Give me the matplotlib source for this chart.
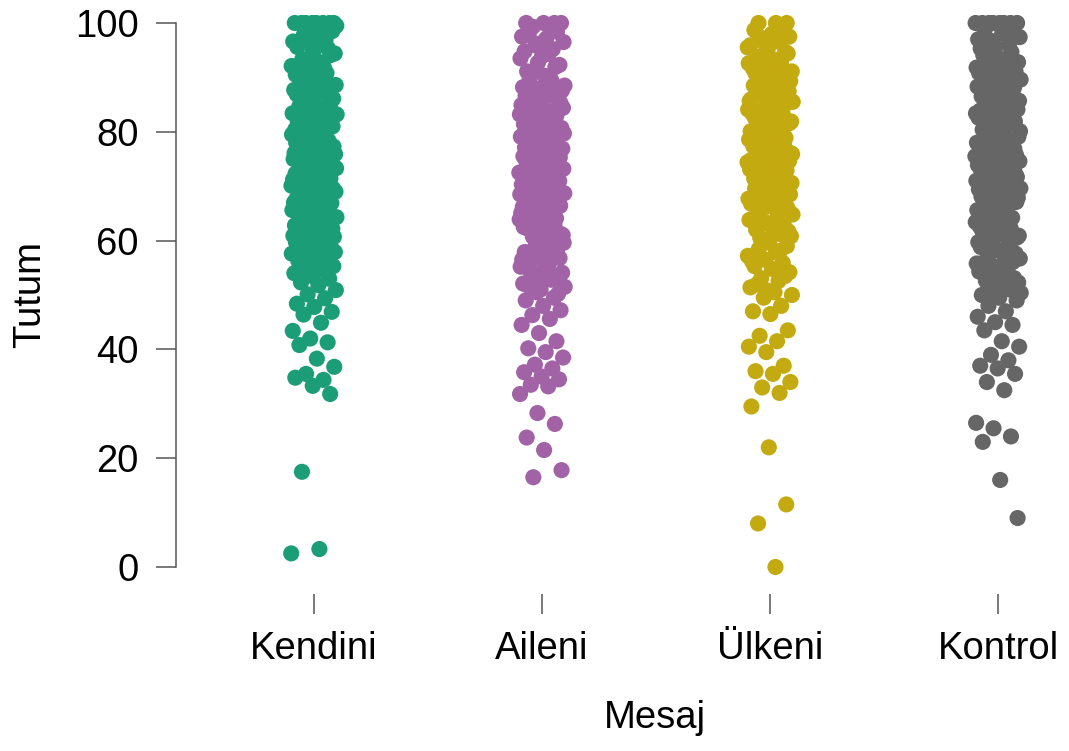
import numpy as np
import matplotlib
matplotlib.use("Agg")
import matplotlib.pyplot as plt

plt.rcParams['font.family'] = ['Liberation Sans', 'DejaVu Sans']

groups = ['Kendini', 'Aileni', 'Ülkeni', 'Kontrol']
colors = ['#1B9E77', '#A163A6', '#C2AA10', '#666666']

kendini = [2.5, 3.3, 17.5, 31.8, 33.3, 34.8, 34.4, 35.5, 36.8, 38.3, 40.8, 41.3,
           42.0, 43.4, 44.9, 46.4, 46.9, 47.8, 48.4, 49.4, 50.1, 50.9, 51.8, 52.3,
           53.0, 53.5, 54.0, 54.6, 54.9, 55.3, 55.8,
           56.2, 56.7, 57.1, 57.6, 58.0, 58.4, 58.9, 59.3, 59.7, 55.5, 56.9, 57.9, 58.7, 59.5,
           60.1, 60.5, 60.9, 61.3, 61.8, 62.2, 62.6, 63.0, 63.4, 63.9, 64.3, 64.7,
           60.3, 61.1, 61.9, 62.8, 63.6, 64.4, 60.7, 62.0, 63.2, 64.9,
           65.2, 65.6, 66.0, 66.5, 66.9, 67.3, 67.7, 68.2, 68.6, 69.0, 69.4, 69.9,
           65.4, 66.2, 67.0, 67.9, 68.8, 69.6, 65.8, 66.7, 68.0, 69.2,
           70.1, 70.5, 71.0, 71.4, 71.8, 72.3, 72.7, 73.1, 73.5, 74.0, 74.4, 74.8,
           70.3, 71.2, 72.0, 72.9, 73.8, 74.6, 70.8, 71.6, 72.5, 73.3, 74.2, 74.9,
           75.2, 75.6, 76.1, 76.5, 76.9, 77.3, 77.8, 78.2, 78.6, 79.0, 79.5, 79.9,
           75.4, 76.3, 77.1, 78.0, 78.8, 79.7, 75.9, 76.7, 77.5, 78.4, 79.2, 75.0,
           80.2, 80.6, 81.0, 81.5, 81.9, 82.3, 82.8, 83.2, 83.6, 84.0, 84.5, 84.9,
           80.4, 81.3, 82.1, 83.0, 83.8, 84.7, 80.8, 82.5, 83.4, 84.2,
           85.3, 85.8, 86.4, 86.9, 87.5, 88.0, 88.6, 89.1, 89.7, 85.5, 86.6, 87.7,
           88.8, 89.4, 86.1, 87.2,
           90.2, 90.8, 91.5, 92.1, 92.8, 93.4, 94.1, 94.7, 90.5, 91.8, 93.1, 94.4, 91.1, 92.4,
           95.3, 95.9, 96.6, 97.2, 97.9, 98.5, 99.1, 95.6, 96.9, 98.2, 99.5, 96.2,
           100, 100, 100, 100, 100, 100, 100, 100]

aileni = [16.5, 17.8, 21.5, 23.8, 26.3, 28.3, 31.8, 33.2, 33.5, 34.5, 35.0, 35.8,
          36.5, 37.2, 38.5, 39.5, 40.2, 41.5, 43.0, 44.5, 45.6, 46.3, 47.2, 48.0,
          49.0, 49.5, 50.5, 51.5, 53.0, 54.5,
          50.2, 51.0, 52.1, 52.8, 53.6, 54.1, 54.8, 51.8, 53.3, 52.4,
          55.2, 55.7, 56.3, 56.8, 57.4, 57.9, 58.5, 59.0, 59.6, 55.9, 57.1, 58.2, 59.3, 56.5,
          60.2, 60.7, 61.2, 61.8, 62.3, 62.8, 63.3, 63.9, 64.4, 64.9, 60.5, 61.5, 62.5,
          63.6, 64.6, 61.0, 62.0, 63.0, 64.1, 60.9,
          65.1, 65.5, 66.0, 66.4, 66.9, 67.3, 67.8, 68.2, 68.7, 69.1, 69.6, 69.9,
          65.3, 66.2, 67.1, 68.0, 68.9, 69.8, 65.8, 66.7, 67.6, 68.5,
          70.1, 70.5, 71.0, 71.4, 71.9, 72.3, 72.7, 73.2, 73.6, 74.1, 74.5, 74.9,
          70.3, 71.2, 72.1, 73.0, 73.9, 74.7, 70.8, 71.7, 72.5, 73.4, 74.3, 70.6,
          75.1, 75.5, 76.0, 76.4, 76.9, 77.3, 77.7, 78.2, 78.6, 79.1, 79.5, 79.9,
          75.3, 76.2, 77.1, 78.0, 78.9, 79.7, 75.8, 76.7, 77.5, 78.4, 79.3, 75.6,
          80.2, 80.7, 81.2, 81.7, 82.2, 82.7, 83.2, 83.7, 84.2, 84.7, 80.4, 81.4,
          82.4, 83.4, 84.4, 80.9, 81.9, 82.9, 83.9, 84.9, 81.1, 83.0,
          85.3, 85.9, 86.6, 87.2, 87.9, 88.5, 89.2, 89.8, 85.6, 86.9, 88.2, 89.5,
          86.3, 87.6,
          90.3, 91.1, 91.9, 92.7, 93.5, 94.3, 90.7, 92.3, 93.9, 94.8,
          95.2, 95.9, 96.5, 97.1, 97.8, 98.4, 96.2, 97.5, 98.9, 99.3,
          100, 100, 100, 100]

ulkeni = [0.0, 8.0, 11.5, 22.0, 29.5, 32.0, 33.0, 34.0, 35.5, 36.0, 37.0, 39.5,
          40.5, 41.5, 42.5, 43.5, 46.5, 47.0, 48.0, 49.5, 50.0, 50.5, 52.0, 53.5,
          50.8, 51.4, 52.6, 53.1, 54.2, 54.8,
          55.3, 55.9, 56.5, 57.2, 57.8, 58.4, 59.0, 59.6, 56.2, 58.1,
          60.2, 60.8, 61.4, 62.0, 62.6, 63.2, 63.8, 64.4, 60.5, 61.7, 62.9, 64.1,
          61.1, 63.5, 64.8, 62.3,
          65.2, 65.7, 66.3, 66.8, 67.4, 67.9, 68.5, 69.0, 69.6, 65.5, 66.6, 67.7,
          68.8, 69.8, 66.0, 68.2, 67.1, 69.3,
          70.1, 70.6, 71.1, 71.6, 72.1, 72.6, 73.1, 73.6, 74.1, 74.6, 70.4, 71.4,
          72.4, 73.4, 74.4, 70.9, 71.9, 72.9, 73.9, 74.9,
          75.1, 75.6, 76.1, 76.6, 77.1, 77.6, 78.1, 78.6, 79.1, 79.6, 75.4, 76.4,
          77.4, 78.4, 79.4, 75.9, 76.9, 77.9, 78.9, 79.9,
          80.1, 80.6, 81.1, 81.6, 82.1, 82.6, 83.1, 83.6, 84.1, 84.6, 80.4, 81.4,
          82.4, 83.4, 84.4, 80.9, 81.9, 82.9, 83.9, 84.9,
          85.2, 85.7, 86.3, 86.8, 87.4, 87.9, 88.5, 89.0, 89.6, 85.5, 86.6, 87.7,
          88.8, 89.8, 86.0, 87.1, 88.2, 89.3,
          90.2, 90.8, 91.4, 92.0, 92.6, 93.2, 93.8, 94.4, 90.5, 91.7, 92.9, 94.1,
          91.1, 92.3, 93.5, 94.7,
          95.2, 95.9, 96.6, 97.3, 97.5, 98.0, 98.7, 99.0, 96.2, 95.5,
          100, 100, 100]

kontrol = [9.0, 16.0, 23.0, 24.0, 25.5, 26.5, 32.5, 34.0, 35.5, 36.5, 37.0, 38.0,
           39.0, 40.5, 41.5, 43.5, 44.5, 45.0, 46.0, 47.0, 48.0, 49.0, 49.5, 50.0,
           51.0, 52.0, 50.4, 51.5, 52.6, 53.1, 53.7, 54.3, 54.8, 50.8, 52.3, 53.4,
           54.0, 51.9,
           55.2, 55.8, 56.4, 57.0, 57.6, 58.2, 58.8, 59.4, 55.5, 56.7, 57.9, 59.1,
           56.1, 58.5, 59.7, 57.3,
           60.1, 60.6, 61.2, 61.7, 62.3, 62.8, 63.4, 63.9, 64.5, 60.4, 61.5, 62.6,
           63.7, 64.8, 60.9, 62.0, 63.1, 64.2,
           65.1, 65.6, 66.1, 66.6, 67.1, 67.6, 68.1, 68.6, 69.1, 69.6, 65.4, 66.4,
           67.4, 68.4, 69.4, 65.9, 66.9, 67.9, 68.9, 69.9,
           70.1, 70.5, 71.0, 71.4, 71.9, 72.3, 72.8, 73.2, 73.7, 74.1, 74.6, 70.3,
           71.2, 72.1, 73.0, 73.9, 74.8, 70.8, 71.7, 72.6, 73.5, 74.4,
           75.1, 75.5, 76.0, 76.4, 76.9, 77.3, 77.8, 78.2, 78.7, 79.1, 79.6, 75.3,
           76.2, 77.1, 78.0, 78.9, 79.8, 75.8, 76.7, 77.6, 78.5, 79.4,
           80.1, 80.6, 81.1, 81.6, 82.1, 82.6, 83.1, 83.6, 84.1, 84.6, 80.4, 81.4,
           82.4, 83.4, 84.4, 80.9, 81.9, 82.9, 83.9, 84.9,
           85.2, 85.7, 86.2, 86.8, 87.3, 87.8, 88.3, 88.9, 89.4, 89.9, 85.5, 86.5,
           87.6, 88.6, 89.6, 86.0, 87.1, 88.1,
           90.2, 90.8, 91.5, 92.1, 92.8, 93.4, 94.1, 94.7, 90.5, 91.8, 93.1, 94.4,
           91.1, 92.4,
           95.3, 96.0, 96.7, 97.4, 98.1, 98.8, 99.4, 95.6, 97.0, 98.4,
           100, 100, 100, 100, 100, 100, 100, 100]

values = [kendini, aileni, ulkeni, kontrol]

fig = plt.figure(figsize=(10.69, 7.51), dpi=100)
ax = fig.add_axes([176 / 1069, 1 - 594 / 751, 884 / 1069, 594 / 751])

for i, (vals, col) in enumerate(zip(values, colors)):
    n = len(vals)
    # deterministic jitter (golden ratio sequence) for the horizontal spread
    jit = ((np.arange(n) * 0.6180339887 + 0.31 * i) % 1.0 - 0.5) * 2 * 0.1
    ax.scatter(i + 1 + jit, vals, s=135, color=col, edgecolors='none', zorder=3)

ax.set_xlim(1 - 138 / 228, 1 + 884 / 228 - 138 / 228)
ax.set_ylim((567 - 594) / 5.44, 567 / 5.44)
ax.set_xticks([1, 2, 3, 4])
ax.set_xticklabels(groups)
ax.set_yticks([0, 20, 40, 60, 80, 100])

for s in ['top', 'right', 'bottom']:
    ax.spines[s].set_visible(False)
ax.spines['left'].set_bounds(0, 100)
ax.spines['left'].set_color('#555555')
ax.spines['left'].set_linewidth(1.1)

ax.tick_params(axis='y', length=14.4, width=1.1, color='#555555', labelsize=27.5, pad=12.5)
ax.tick_params(axis='x', length=14.4, width=1.1, color='#555555', labelsize=27.5, pad=12)

ax.set_ylabel('Tutum', fontsize=27.5)
ax.set_xlabel('Mesaj', fontsize=27.5)
ax.yaxis.set_label_coords(-146 / 884, (594 - 295) / 594)
ax.xaxis.set_label_coords((655 - 176) / 884, -(718 - 594) / 594)
ax.xaxis.label.set_va('center')
ax.yaxis.label.set_va('center')

fig.savefig('out.png', dpi=100)
